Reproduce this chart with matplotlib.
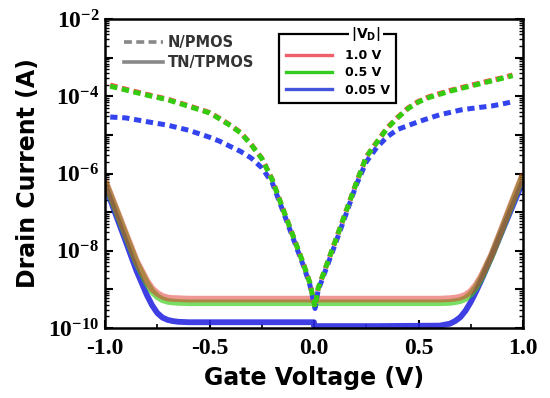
import matplotlib
matplotlib.use("Agg")
import matplotlib.pyplot as plt
import numpy as np
from matplotlib.lines import Line2D
from matplotlib.patches import Rectangle
from matplotlib.ticker import FixedLocator, LogLocator, MultipleLocator, NullFormatter

plt.rcParams["axes.unicode_minus"] = False
plt.rcParams["mathtext.fontset"] = "custom"
plt.rcParams["mathtext.rm"] = "Liberation Serif:bold"
plt.rcParams["mathtext.bf"] = "Liberation Serif:bold"
plt.rcParams["mathtext.it"] = "Liberation Serif:bold"
plt.rcParams["mathtext.sf"] = "DejaVu Sans:bold"

# gate voltage for the TN/TPMOS (solid) curves; 0.0 appears twice for the step
vg_tn = [-1.0, -0.95, -0.9, -0.85, -0.8, -0.775, -0.75, -0.725, -0.7, -0.675, -0.65, -0.6, -0.3, 0.0,
         0.0, 0.3, 0.6, 0.65, 0.675, 0.7, 0.725, 0.75, 0.775, 0.8, 0.85, 0.9, 0.95, 1.0]
tn_10 = [6.6e-7, 1.35e-7, 2.7e-8, 5.5e-9, 1.66e-9, 1.05e-9, 7.9e-10, 6.6e-10, 6.0e-10, 5.8e-10, 5.75e-10, 5.6e-10, 5.6e-10, 5.6e-10,
         5.6e-10, 5.6e-10, 5.6e-10, 5.75e-10, 5.95e-10, 6.3e-10, 7.1e-10, 8.9e-10, 1.29e-9, 2.15e-9, 7.9e-9, 3.9e-8, 1.95e-7, 9.5e-7]
tn_05 = [6.0e-7, 1.23e-7, 2.45e-8, 5.0e-9, 1.45e-9, 8.9e-10, 6.5e-10, 5.4e-10, 4.9e-10, 4.7e-10, 4.6e-10, 4.5e-10, 4.5e-10, 4.5e-10,
         4.5e-10, 4.5e-10, 4.5e-10, 4.6e-10, 4.8e-10, 5.1e-10, 5.8e-10, 7.5e-10, 1.11e-9, 1.93e-9, 7.4e-9, 3.6e-8, 1.8e-7, 8.9e-7]
tn_005 = [5.0e-7, 9.1e-8, 1.7e-8, 3.1e-9, 7.2e-10, 3.9e-10, 2.45e-10, 1.86e-10, 1.62e-10, 1.51e-10, 1.45e-10, 1.41e-10, 1.41e-10, 1.41e-10,
          1.12e-10, 1.12e-10, 1.15e-10, 1.29e-10, 1.51e-10, 1.9e-10, 2.8e-10, 4.7e-10, 8.7e-10, 1.7e-9, 7.1e-9, 3.2e-8, 1.41e-7, 6.3e-7]

# gate voltage for the N/PMOS (dashed) curves
vg_n = [-0.975, -0.9, -0.8, -0.7, -0.6, -0.5, -0.45, -0.4, -0.35, -0.3, -0.25, -0.2, -0.15, -0.1, -0.05, -0.02,
        0.005, 0.02, 0.05, 0.1, 0.15, 0.2, 0.25, 0.3, 0.35, 0.4, 0.45, 0.5, 0.55, 0.6, 0.65, 0.7, 0.75, 0.8, 0.85, 0.9, 0.95]
n_10 = [1.95e-4, 1.52e-4, 1.12e-4, 8.4e-5, 5.7e-5, 3.8e-5, 2.65e-5, 1.78e-5, 1.14e-5, 5.6e-6, 2.5e-6, 7.0e-7, 1.28e-7, 2.4e-8, 4.5e-9, 1.48e-9,
        3.5e-10, 1.07e-9, 3.0e-9, 1.66e-8, 9.4e-8, 5.3e-7, 2.7e-6, 6.5e-6, 1.53e-5, 2.85e-5, 5.0e-5, 7.4e-5, 9.7e-5, 1.17e-4, 1.41e-4, 1.65e-4, 1.92e-4, 2.24e-4, 2.6e-4, 3.0e-4, 3.55e-4]
n_05 = [1.82e-4, 1.45e-4, 1.07e-4, 8.1e-5, 5.5e-5, 3.7e-5, 2.57e-5, 1.74e-5, 1.12e-5, 5.5e-6, 2.45e-6, 6.9e-7, 1.26e-7, 2.4e-8, 4.5e-9, 1.48e-9,
        3.5e-10, 1.07e-9, 3.0e-9, 1.66e-8, 9.3e-8, 5.2e-7, 2.7e-6, 6.3e-6, 1.48e-5, 2.75e-5, 4.8e-5, 7.1e-5, 9.3e-5, 1.12e-4, 1.35e-4, 1.58e-4, 1.84e-4, 2.14e-4, 2.5e-4, 2.9e-4, 3.4e-4]
n_005 = [2.9e-5, 2.75e-5, 2.2e-5, 1.78e-5, 1.32e-5, 8.7e-6, 6.8e-6, 5.0e-6, 3.7e-6, 2.5e-6, 1.41e-6, 5.8e-7, 1.12e-7, 2.1e-8, 4.0e-9, 1.32e-9,
         3.2e-10, 9.5e-10, 2.6e-9, 1.41e-8, 7.9e-8, 4.7e-7, 2.0e-6, 4.7e-6, 8.9e-6, 1.38e-5, 1.74e-5, 2.2e-5, 2.7e-5, 3.3e-5, 3.8e-5, 4.4e-5, 4.8e-5, 5.2e-5, 5.6e-5, 6.3e-5, 7.2e-5]

vd_labels = ["1.0 V", "0.5 V", "0.05 V"]
type_labels = ["N/PMOS", "TN/TPMOS"]
ytick_exp = [-2, -3, -4, -5, -6, -7, -8, -9, -10]

RED = "#ff4d55"
GREEN = "#33cc11"
BLUE = "#3344ee"

W, H = 550, 398
fig = plt.figure(figsize=(W / 100, H / 100), dpi=100)
ax = fig.add_axes([105 / W, 1 - 328 / H, (523 - 105) / W, (328 - 19) / H])

# solid TN/TPMOS curves
ax.plot(vg_tn, tn_005, color="#2a2ae0", lw=4.2, alpha=0.9, solid_capstyle="butt", zorder=2)
ax.plot(vg_tn, tn_05, color=GREEN, lw=4.8, alpha=0.65, solid_capstyle="butt", zorder=2)
ax.plot(vg_tn, tn_10, color="#e0302a", lw=4.8, alpha=0.5, solid_capstyle="butt", zorder=2)

# dashed N/PMOS curves
dash = (0, (1.45, 0.95))
ax.plot(vg_n, n_005, color=BLUE, lw=3.6, ls=dash, zorder=3)
ax.plot(vg_n, n_10, color=RED, lw=3.6, ls=dash, zorder=3)
ax.plot(vg_n, n_05, color=GREEN, lw=3.6, ls=dash, zorder=3)

ax.set_yscale("log")
ax.set_xlim(-1.0, 1.0)
ax.set_ylim(1e-10, 1e-2)

ax.xaxis.set_major_locator(MultipleLocator(0.5))
ax.xaxis.set_minor_locator(MultipleLocator(0.25))
ax.xaxis.set_major_formatter(matplotlib.ticker.FormatStrFormatter("%.1f"))
ax.yaxis.set_major_locator(FixedLocator([10.0 ** e for e in ytick_exp]))
ax.yaxis.set_minor_locator(LogLocator(base=10, subs=np.arange(2, 10), numticks=20))
ax.yaxis.set_minor_formatter(NullFormatter())
ax.set_yticklabels([r"$10^{%d}$" % e if e % 2 == 0 else "" for e in ytick_exp])

for lab in ax.get_xticklabels() + ax.get_yticklabels():
    lab.set_fontfamily("Liberation Serif")
    lab.set_fontweight("bold")
ax.tick_params(axis="x", which="major", labelsize=17, direction="in", length=6, width=1.5, pad=7, top=False)
ax.tick_params(axis="x", which="minor", direction="in", length=3, width=1.2, top=False)
ax.tick_params(axis="y", which="major", labelsize=17, direction="in", length=6, width=1.5, pad=4, right=True)
ax.tick_params(axis="y", which="minor", direction="in", length=3, width=1.0, right=True)
for s in ax.spines.values():
    s.set_linewidth(1.8)

ax.set_xlabel("Gate Voltage (V)", fontsize=17, fontweight="bold", labelpad=5)
ax.set_ylabel("Drain Current (A)", fontsize=17, fontweight="bold", labelpad=6)

# legend for device type
h_type = [Line2D([], [], color="#888888", lw=2.6, ls=(0, (2.2, 1.2))),
          Line2D([], [], color="#888888", lw=2.6)]
leg1 = ax.legend(h_type, type_labels, loc="upper left", bbox_to_anchor=(124 / W, 1 - 35 / H),
                 bbox_transform=fig.transFigure, frameon=False, borderpad=0, borderaxespad=0,
                 handlelength=2.7, handletextpad=0.3, labelspacing=0.35,
                 prop=dict(family="DejaVu Sans", weight="bold", size=10.5), labelcolor="#333333")
ax.add_artist(leg1)

# legend for drain voltage
h_vd = [Line2D([], [], color=c, lw=2.4) for c in ["#f0606a", "#33cc22", "#4455dd"]]
leg2 = ax.legend(h_vd, vd_labels, loc="upper left", bbox_to_anchor=(286 / W, 1 - 49 / H),
                 bbox_transform=fig.transFigure, frameon=False, borderpad=0, borderaxespad=0,
                 handlelength=3.7, handletextpad=1.0, labelspacing=0.35,
                 prop=dict(family="DejaVu Sans", weight="bold", size=9))
fig.add_artist(Rectangle((279 / W, 1 - 103 / H), (396 - 279) / W, (103 - 34) / H,
                         transform=fig.transFigure, fill=False, lw=1.6, ec="black", zorder=5))
fig.text(366 / W, 1 - 34 / H, r"|V$_\mathsf{D}$|", ha="center", va="center", fontsize=10,
         fontweight="bold", family="DejaVu Sans", zorder=6,
         bbox=dict(facecolor="white", edgecolor="none", pad=1.5))

fig.savefig("out.png", dpi=100)
